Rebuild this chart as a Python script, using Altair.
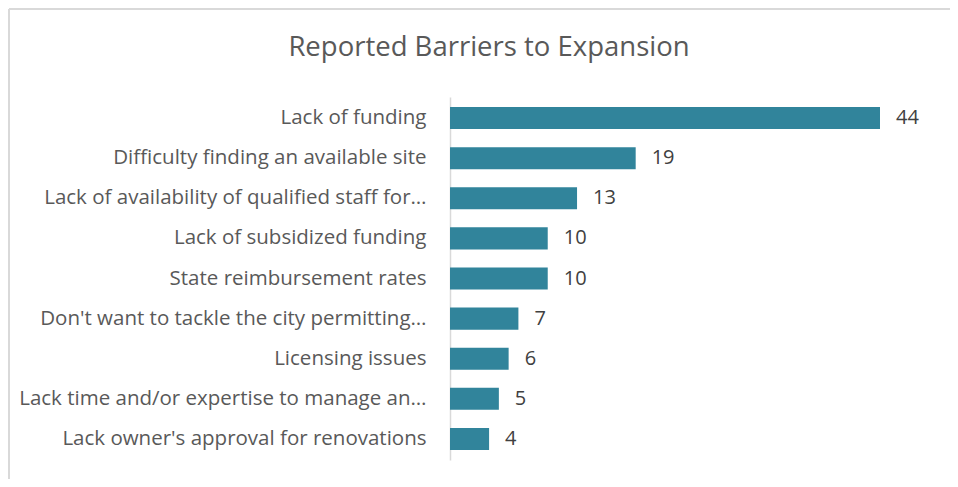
import altair as alt
import pandas as pd

categories = [
    "Lack of funding",
    "Difficulty finding an available site",
    "Lack of availability of qualified staff for…",
    "Lack of subsidized funding",
    "State reimbursement rates",
    "Don't want to tackle the city permitting…",
    "Licensing issues",
    "Lack time and/or expertise to manage an…",
    "Lack owner's approval for renovations",
]
values = [44, 19, 13, 10, 10, 7, 6, 5, 4]

df = pd.DataFrame({"barrier": categories, "count": values})

FONT = "Open Sans"

y_enc = alt.Y(
    "barrier:N",
    sort=categories,
    title=None,
    scale=alt.Scale(paddingInner=0.45, paddingOuter=0.25),
    axis=alt.Axis(
        ticks=False,
        labelPadding=24,
        labelFontSize=20.5,
        labelColor="#595959",
        labelFont=FONT,
        labelLimit=500,
        domainColor="#D9D9D9",
        domainWidth=1.5,
    ),
)
x_enc = alt.X(
    "count:Q",
    scale=alt.Scale(domain=[0, 44], nice=False),
    axis=None,
)

bars = alt.Chart(df).mark_bar(color="#31849B").encode(y=y_enc, x=x_enc)
labels = alt.Chart(df).mark_text(
    align="left", baseline="middle", dx=16, fontSize=20, font=FONT, color="#404040"
).encode(y=y_enc, x=x_enc, text="count:Q")

border_top = alt.Chart(df).mark_rule(color="#D9D9D9", strokeWidth=1.5, clip=False).encode(
    x=alt.value(-441), x2=alt.value(520), y=alt.value(-88)
)
border_left = alt.Chart(df).mark_rule(color="#D9D9D9", strokeWidth=1.5, clip=False).encode(
    x=alt.value(-441), y=alt.value(-88), y2=alt.value(400)
)

chart = (
    alt.layer(border_top, border_left, bars, labels)
    .properties(
        width=430,
        height=363,
        autosize=alt.AutoSizeParams(type="none"),
        padding={"left": 442, "top": 89, "right": 70, "bottom": 19},
        title=alt.Title(
            "Reported Barriers to Expansion",
            fontSize=27.5,
            font=FONT,
            fontWeight="normal",
            color="#595959",
            anchor="middle",
            dx=-176,
            dy=89,
            offset=36,
        ),
    )
    .configure_view(stroke=None)
)

chart.save("out.html", embed_options={"renderer": "svg", "actions": False})
